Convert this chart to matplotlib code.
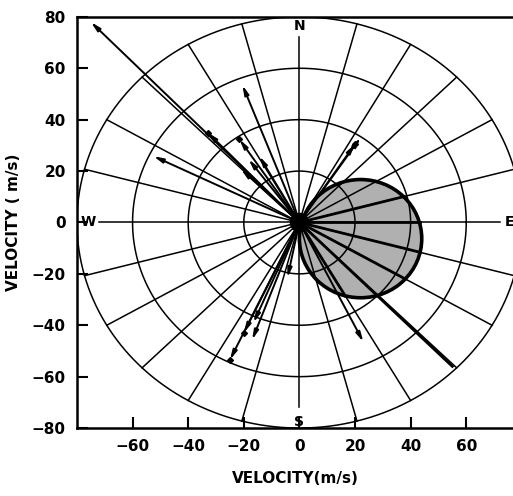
import numpy as np
import matplotlib
matplotlib.use("Agg")
import matplotlib.pyplot as plt
from matplotlib.patches import Ellipse

# ---- data ----
ring_radii = [20, 40, 60, 80]
spoke_angles = list(range(0, 360, 15))
x_ticks = [-60, -40, -20, 0, 20, 40, 60]
y_ticks = [-80, -60, -40, -20, 0, 20, 40, 60, 80]

# vector tips (u, v) in m/s
vec_u = [-75, -33, -52.5, -20.5, -21.6, -14.4, -18.3, -21, 22, 20,
         -25, -20, -17, -16.5, -4.3, 23]
vec_v = [78, 35, 25.8, 53.5, 32.4, 25.8, 24.6, 20.7, 33, 30.5,
         -53.5, -43, -45.7, -39, -21.5, -46.5]

# thick hodograph segments (no head) through the shaded region
thick_u = [55, 37.7, 43.2, 43.4, 38.1, 16.5]
thick_v = [-56, 10.1, 0, -11.6, -22, -28.6]

# intermediate markers along vectors
mark_u = [-33, -25, -20, 20, -21.6]
mark_v = [35, -53.5, -43, 30.5, 32.4]

# shaded region (center, diameters)
ell_cx, ell_cy, ell_w, ell_h = 22, -6.3, 44, 46

fig = plt.figure(figsize=(5.13, 4.96), dpi=100)
ax = fig.add_axes([0.150, 0.137, 0.851, 0.829])
ax.set_xlim(-80, 77)
ax.set_ylim(-80, 80)

# shaded circle
ax.add_patch(Ellipse((ell_cx, ell_cy), ell_w, ell_h, facecolor='#b0b0b0',
                     edgecolor='none', zorder=0.5))
ax.add_patch(Ellipse((ell_cx, ell_cy), ell_w, ell_h, facecolor='none',
                     edgecolor='black', lw=2.6, zorder=3))

t = np.linspace(0, 2*np.pi, 400)
for r in ring_radii:
    ax.plot(r*np.cos(t), r*np.sin(t), color='black', lw=1.1, zorder=2)

for a in spoke_angles:
    rad = np.deg2rad(a)
    L = 72 if a % 90 == 0 else 80
    ax.plot([0, L*np.cos(rad)], [0, L*np.sin(rad)], color='black', lw=1.1, zorder=2)

for lab, (x, y) in {'N': (0, 76.5), 'S': (0, -77.5), 'E': (75.5, 0), 'W': (-76, 0)}.items():
    ax.text(x, y, lab, ha='center', va='center', fontsize=10, fontweight='bold', zorder=5)

for u, v in zip(thick_u, thick_v):
    ax.plot([0, u], [0, v], color='black', lw=2.0, zorder=3)

for u, v in zip(vec_u, vec_v):
    ax.annotate('', xy=(u, v), xytext=(0, 0),
                arrowprops=dict(arrowstyle='-|>,head_length=0.55,head_width=0.13',
                                color='black', lw=1.4, shrinkA=0, shrinkB=0),
                zorder=4)

ax.plot(mark_u, mark_v, 'D', color='black', ms=3, zorder=4)
ax.plot([0], [0], 'o', color='black', ms=13, zorder=4)

for s in ['top', 'left', 'bottom']:
    ax.spines[s].set_linewidth(1.8)
ax.spines['right'].set_visible(False)

ax.set_xticks(x_ticks)
ax.set_yticks(y_ticks)
ax.tick_params(direction='in', length=8, width=1.5, labelsize=11, pad=8)
for lbl in ax.get_xticklabels() + ax.get_yticklabels():
    lbl.set_fontweight('bold')
ax.set_xlabel('VELOCITY(m/s)', fontsize=11, fontweight='bold', labelpad=12)
ax.set_ylabel('VELOCITY ( m/s)', fontsize=11, fontweight='bold', labelpad=8)

fig.savefig('out.png', dpi=100)
